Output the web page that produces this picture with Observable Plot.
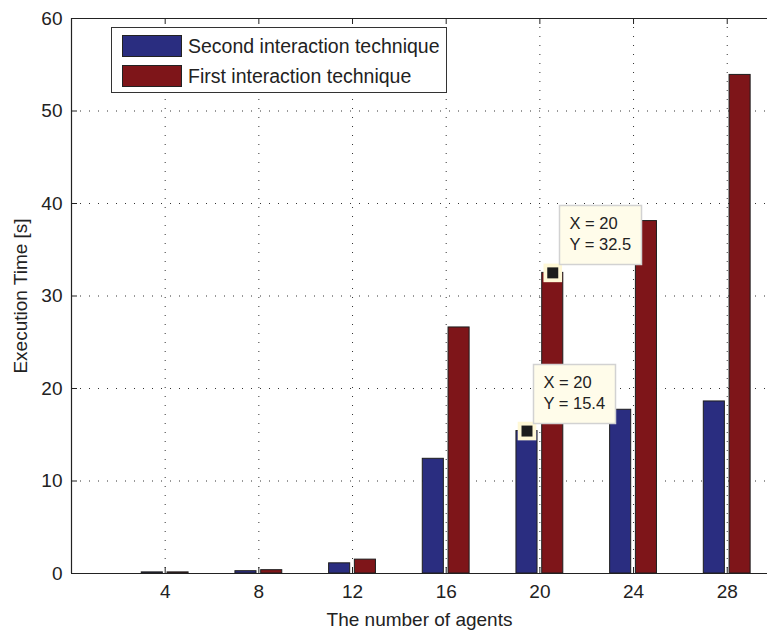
<!DOCTYPE html>
<html>
<head>
<meta charset="utf-8">
<script src="https://cdn.jsdelivr.net/npm/d3@7"></script>
<script src="https://cdn.jsdelivr.net/npm/@observablehq/plot@0.6"></script>
<style>
  html, body { margin: 0; padding: 0; background: #fff; }
  #wrap { position: relative; width: 767px; height: 631px; font-family: "Liberation Sans", Arial, Helvetica, sans-serif; color: #222; }
  #legend { position: absolute; left: 111px; top: 27px; width: 336px; height: 66px; border: 1px solid #333; background: #fff; box-sizing: border-box; }
  .lg-row { position: absolute; left: 10px; height: 22px; display: flex; align-items: center; font-size: 19.5px; white-space: nowrap; }
  .lg-sw { width: 60px; height: 22px; border: 1px solid #222; box-sizing: border-box; margin-right: 6px; }
</style>
</head>
<body>
<div id="wrap"></div>
<script>
const agents = [4, 8, 12, 16, 20, 24, 28];
const secondTech = [0.12, 0.25, 1.1, 12.4, 15.4, 17.7, 18.6];
const firstTech = [0.12, 0.36, 1.5, 26.6, 32.5, 38.1, 53.9];
const seriesNames = ["Second interaction technique", "First interaction technique"];
const seriesColors = ["#2a2d80", "#7e1519"];
const xTicks = [4, 8, 12, 16, 20, 24, 28];
const yTicks = [0, 10, 20, 30, 40, 50, 60];
const tipPoints = [
  {series: 1, x: 20, y: 32.5},
  {series: 0, x: 20, y: 15.4}
];

// bar offsets within each group (left: second technique, right: first technique)
const barSpan = [[-1.0, -0.1], [0.1, 1.0]];
const bars = [];
agents.forEach((a, i) => {
  bars.push({series: 0, x: a, value: secondTech[i]});
  bars.push({series: 1, x: a, value: firstTech[i]});
});
const center = d => d.x + (barSpan[d.series][0] + barSpan[d.series][1]) / 2;

const grid = {stroke: "#333", strokeDasharray: "1,8", strokeWidth: 1};
const fontFamily = "'Liberation Sans', Arial, Helvetica, sans-serif";

const chart = Plot.plot({
  width: 767,
  height: 631,
  marginLeft: 71,
  marginRight: 0,
  marginTop: 18,
  marginBottom: 58,
  x: {domain: [0, 29.72]},
  y: {domain: [0, 60]},
  style: {fontFamily, fontSize: "18px", color: "#222", background: "white"},
  marks: [
    Plot.ruleX(xTicks, grid),
    Plot.ruleY(yTicks.filter(d => d > 0 && d < 60), grid),
    Plot.rectY(bars, {
      x1: d => d.x + barSpan[d.series][0],
      x2: d => d.x + barSpan[d.series][1],
      y: "value",
      fill: d => seriesColors[d.series],
      stroke: "#1e1e1e",
      strokeWidth: 1
    }),
    Plot.tickX(xTicks, {x: d => d, insetTop: 549, stroke: "#222"}),
    Plot.tickX(xTicks, {x: d => d, insetBottom: 549, stroke: "#222"}),
    Plot.tickY(yTicks, {y: d => d, insetRight: 690, stroke: "#222"}),
    Plot.ruleX([0], {stroke: "#222", strokeWidth: 1.2}),
    Plot.ruleY([0, 60], {stroke: "#222", strokeWidth: 1.2}),
    Plot.axisX({ticks: xTicks, tickSize: 0, tickPadding: 11, fontSize: 19,
      label: "The number of agents", labelAnchor: "center", labelArrow: "none", labelOffset: 52}),
    Plot.axisY({ticks: yTicks, tickSize: 0, tickPadding: 9, fontSize: 19,
      label: "Execution Time [s]", labelAnchor: "center", labelArrow: "none", labelOffset: 58}),
    Plot.dot(tipPoints, {x: center, y: "y", symbol: "square", r: 10.5, fill: "#fff8d6", stroke: null}),
    Plot.dot(tipPoints, {x: center, y: "y", symbol: "square", r: 6.2, fill: "#1c1c1c", stroke: null}),
    Plot.tip(tipPoints, {
      x: center, y: "y",
      title: d => `X = ${d.x}\nY = ${d.y}`,
      anchor: "bottom-left", pointerSize: 0,
      dx: 7, dy: -8,
      fill: "#fffcea", stroke: "#d2d2d2", strokeWidth: 1.5,
      fontSize: 16.5, lineHeight: 1.25, textPadding: 10,
      pathFilter: "none"
    })
  ]
});

const wrap = document.getElementById("wrap");
wrap.appendChild(chart);

const legend = document.createElement("div");
legend.id = "legend";
seriesNames.forEach((name, i) => {
  const row = document.createElement("div");
  row.className = "lg-row";
  row.style.top = (7 + i * 30) + "px";
  const sw = document.createElement("div");
  sw.className = "lg-sw";
  sw.style.background = seriesColors[i];
  const tx = document.createElement("span");
  tx.textContent = name;
  row.appendChild(sw);
  row.appendChild(tx);
  legend.appendChild(row);
});
wrap.appendChild(legend);
</script>
</body>
</html>
